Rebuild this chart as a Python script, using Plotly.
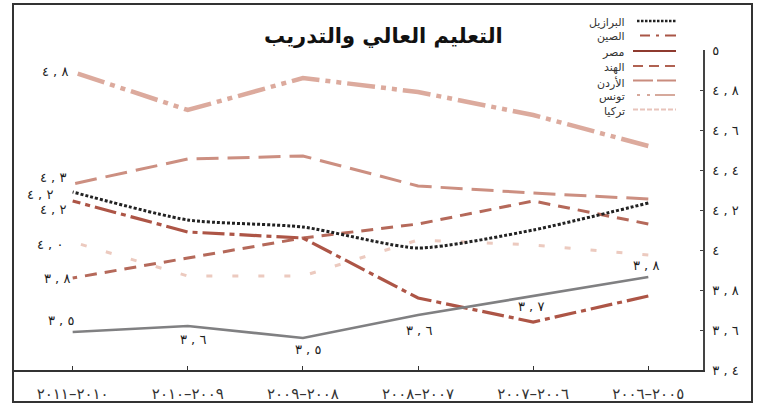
import plotly.graph_objects as go

# ---------------- data ----------------
periods = ["2005-2006", "2006-2007", "2007-2008", "2008-2009", "2009-2010", "2010-2011"]
period_labels = ["٢٠٠٦–٢٠٠٥", "٢٠٠٧–٢٠٠٦", "٢٠٠٨–٢٠٠٧", "٢٠٠٩–٢٠٠٨", "٢٠١٠–٢٠٠٩", "٢٠١١–٢٠١٠"]

brazil = [4.235, 4.10, 4.01, 4.115, 4.15, 4.29]
china = [3.77, 3.64, 3.76, 4.06, 4.09, 4.245]
egypt = [3.865, 3.77, 3.675, 3.56, 3.62, 3.59]
india = [4.13, 4.245, 4.13, 4.06, 3.96, 3.86]
jordan = [4.255, 4.285, 4.32, 4.47, 4.455, 4.33]
tunisia = [4.52, 4.675, 4.79, 4.86, 4.70, 4.89]
turkey = [3.975, 4.025, 4.05, 3.87, 3.87, 4.04]

egypt_labels = ["3.8", "3.7", "3.6", "3.5", "3.6", "3.5"]
start_labels = {"tunisia": "4.8", "jordan": "4.3", "brazil": "4.2", "china": "4.2",
                "turkey": "4.0", "india": "3.8"}

names = {"brazil": "البرازيل", "china": "الصين", "egypt": "مصر", "india": "الهند",
         "jordan": "الأردن", "tunisia": "تونس", "turkey": "تركيا"}

y_ticks = [3.4, 3.6, 3.8, 4.0, 4.2, 4.4, 4.6, 4.8, 5.0]
title = "التعليم العالي والتدريب"

AR = str.maketrans("0123456789", "٠١٢٣٤٥٦٧٨٩")
LRO, PDF = "\u202d", "\u202c"


def ar_num(s):
    if "." in s:
        a, b = s.split(".")
        txt = a.translate(AR) + " , " + b.translate(AR)
    else:
        txt = s.translate(AR)
    return LRO + txt + PDF


def ar_tick(v):
    s = ("%.1f" % v).rstrip("0").rstrip(".")
    return ar_num(s)


# ---------------- styles ----------------
FONT = "DejaVu Sans"
styles = {
    "tunisia": dict(color="#dcaa9d", width=4.5, dash="28px,6px,5px,6px,5px,6px"),
    "jordan": dict(color="#cc8f81", width=3, dash="22px,9px"),
    "brazil": dict(color="#222222", width=3, dash="3px,2px"),
    "china": dict(color="#ad5546", width=3.2, dash="22px,5px,5px,5px"),
    "india": dict(color="#b5695a", width=3, dash="12px,8px"),
    "turkey": dict(color="#eccabf", width=3, dash="6px,20px"),
    "egypt": dict(color="#808082", width=2.6, dash="solid"),
}
series = {"tunisia": tunisia, "jordan": jordan, "brazil": brazil, "china": china,
          "india": india, "turkey": turkey, "egypt": egypt}

fig = go.Figure()
for key in ["turkey", "tunisia", "jordan", "india", "china", "brazil", "egypt"]:
    fig.add_trace(go.Scatter(
        x=periods, y=series[key], mode="lines", name=names[key],
        line=dict(**styles[key], shape="spline" if key == "brazil" else "linear",
                  smoothing=0.6 if key == "brazil" else 0),
        showlegend=False, hoverinfo="skip"))

# ---------------- geometry helpers ----------------
W, H = 763, 411
L, R, T, B = 12, 60, 50, 41
PW, PH = W - L - R, H - T - B


def px(x):
    return (x - L) / PW


def py(y):
    return (H - B - y) / PH


annotations = []
# title
annotations.append(dict(x=px(383), y=py(35), xref="paper", yref="paper", yshift=13,
                        text="<b>" + title + "</b>", showarrow=False,
                        font=dict(family=FONT, size=21, color="#111")))

# start labels (left side)
offsets = {"tunisia": (-3, 1), "jordan": (-5, 7), "brazil": (-18, -2), "china": (-5, -8),
           "turkey": (-8, -2), "india": (-1, 0)}
for key, lab in start_labels.items():
    dx, dy = offsets[key]
    annotations.append(dict(x=periods[-1], y=series[key][-1], xref="x", yref="y",
                            text=ar_num(lab), showarrow=False, xanchor="right",
                            xshift=dx, yshift=dy,
                            font=dict(family=FONT, size=13, color="#222")))

# egypt labels
eg_off = [(-2, 12), (-2, -10), (1, -15), (5, -11), (5, -13), (-12, 12)]
for i, lab in enumerate(egypt_labels):
    dx, dy = eg_off[i]
    annotations.append(dict(x=periods[i], y=egypt[i], xref="x", yref="y",
                            text=ar_num(lab), showarrow=False, xshift=dx, yshift=dy,
                            font=dict(family=FONT, size=13, color="#222")))

# manual legend (text left of sample, as in the original)
legend_order = ["brazil", "china", "egypt", "india", "jordan", "tunisia", "turkey"]
legend_y = [21, 35.5, 51, 66, 80.5, 95, 109.5]
legend_x0 = {"brazil": 637, "china": 640, "egypt": 633, "india": 633, "jordan": 633,
             "tunisia": 637, "turkey": 633}
legend_styles = {
    "brazil": dict(color="#222222", width=2.5, dash="2.5px,1.5px"),
    "china": dict(color="#a95647", width=2.2, dash="10px,6px,3px,6px,12px,20px"),
    "egypt": dict(color="#8e3a2f", width=2.2, dash="solid"),
    "india": dict(color="#b06252", width=2.2, dash="10px,6px"),
    "jordan": dict(color="#c98c7e", width=2.2, dash="20px,4px"),
    "tunisia": dict(color="#d6a99c", width=2.2, dash="3px,7px,3px,5px,20px,10px"),
    "turkey": dict(color="#e8c4bb", width=2.2, dash="5px,2px"),
}
shapes = []
for key, yy in zip(legend_order, legend_y):
    annotations.append(dict(x=px(627), y=py(yy), xref="paper", yref="paper", yshift=7,
                            text=names[key], showarrow=False, xanchor="right",
                            font=dict(family=FONT, size=11, color="#333")))
    shapes.append(dict(type="line", xref="paper", yref="paper",
                       x0=px(legend_x0[key]), x1=px(676), y0=py(yy), y1=py(yy),
                       line=legend_styles[key]))

# outer frame
shapes.append(dict(type="rect", xref="paper", yref="paper",
                   x0=px(13), x1=px(752), y0=py(402), y1=py(4),
                   line=dict(color="#333", width=2)))

fig.update_layout(
    width=W, height=H, margin=dict(l=L, r=R, t=T, b=B, autoexpand=False),
    paper_bgcolor="white", plot_bgcolor="white",
    annotations=annotations, shapes=shapes, showlegend=False,
    xaxis=dict(type="category", categoryorder="array", categoryarray=periods,
               range=[5.527, -0.475], tickvals=periods,
               ticktext=[LRO + t + PDF for t in period_labels], automargin=False,
               showgrid=False, zeroline=False, showline=True, linecolor="#333", linewidth=1.5,
               ticks="inside", ticklen=4, tickcolor="#333", tickwidth=1,
               ticklabelstandoff=9,
               tickfont=dict(family=FONT, size=15, color="#333")),
    yaxis=dict(range=[3.4, 5.0], side="right", tickvals=y_ticks, automargin=False,
               ticktext=[ar_tick(v) for v in y_ticks],
               showgrid=False, zeroline=False, showline=True, linecolor="#444", linewidth=1.5,
               ticks="inside", ticklen=3, tickcolor="#444", tickwidth=1,
               ticklabelstandoff=5,
               tickfont=dict(family=FONT, size=13, color="#222")),
)

fig.write_html("out.html")
